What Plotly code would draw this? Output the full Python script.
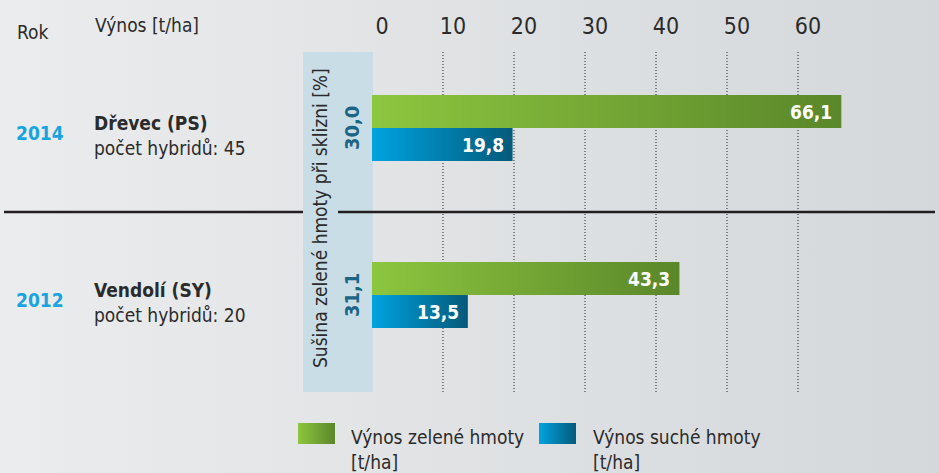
import base64
import plotly.graph_objects as go

# data
years = ['2014', '2012']
sites = ['Dřevec (PS)', 'Vendolí (SY)']
hybrids = [45, 20]
green_yield = [66.1, 43.3]   # výnos zelené hmoty [t/ha]
dry_yield = [19.8, 13.5]     # výnos suché hmoty [t/ha]
dry_matter = [30.0, 31.1]    # sušina při sklizni [%]
tick_vals = [0, 10, 20, 30, 40, 50, 60]

W, H = 939, 473
TOP = 52
FONT = 'Liberation Sans Narrow, DejaVu Sans Condensed, Roboto, sans-serif'
DARK = '#2b2b2b'


def px(x):
    return x / W


def py(y):
    return (H - y) / (H - TOP)


def fmt(v):
    return f'{v:.1f}'.replace('.', ',')


def svg_gradient(c0, c1):
    svg = ('<svg xmlns="http://www.w3.org/2000/svg" width="100" height="100" preserveAspectRatio="none">'
           '<defs><linearGradient id="g" x1="0" x2="1" y1="0" y2="0">'
           f'<stop offset="0" stop-color="{c0}"/><stop offset="1" stop-color="{c1}"/>'
           '</linearGradient></defs><rect width="100" height="100" fill="url(#g)"/></svg>')
    return 'data:image/svg+xml;base64,' + base64.b64encode(svg.encode()).decode()


GREEN = ['#8dc63f', '#5a872a']
BLUE = ['#00a3e0', '#045a7a']

pos = list(range(len(years)))
half = 33 / 167

fig = go.Figure()
for i, c in enumerate(pos):
    for vals, cols, y0, y1 in [(green_yield, GREEN, c - half, c), (dry_yield, BLUE, c, c + half)]:
        v = vals[i]
        fig.add_trace(go.Scatter(
            x=[0, v, v, 0, 0], y=[y0, y0, y1, y1, y0],
            mode='lines', fill='toself', line=dict(width=0, color='rgba(0,0,0,0)'),
            fillgradient=dict(type='horizontal', colorscale=[[0, cols[0]], [1, cols[1]]]),
            hoverinfo='text', text=fmt(v), showlegend=False))
        fig.add_annotation(x=v, y=(y0 + y1) / 2, text=f'<b>{fmt(v)}</b>', showarrow=False,
                           xanchor='right', yanchor='middle', xshift=-7,
                           font=dict(family=FONT, size=19, color='white'))

    # dry matter value in the band (rotated)
    fig.add_annotation(x=px(352), xref='paper', y=c, yref='y', text=f'<b>{fmt(dry_matter[i])}</b>',
                       textangle=-90, showarrow=False, xanchor='center', yanchor='middle',
                       font=dict(family=FONT, size=20, color='#1b6484'))
    # year and site labels
    fig.add_annotation(x=px(14), xref='paper', y=c, yref='y', yshift=-5, text=f'<b>{years[i]}</b>',
                       showarrow=False, xanchor='left', yanchor='middle',
                       font=dict(family=FONT, size=19, color='#1ba3de'))
    fig.add_annotation(x=px(92), xref='paper', y=c, yref='y', yshift=-7,
                       text=f'<b>{sites[i]}</b><br>počet hybridů: {hybrids[i]}',
                       showarrow=False, xanchor='left', yanchor='middle', align='left',
                       font=dict(family=FONT, size=19, color=DARK))

shapes = [
    dict(type='rect', xref='paper', yref='paper', x0=px(303), x1=px(373), y0=py(392), y1=py(TOP),
         fillcolor='#c9dde7', line=dict(width=0), layer='below'),
    dict(type='line', xref='paper', yref='paper', x0=px(4), x1=px(303), y0=py(212), y1=py(212),
         line=dict(color='#231f20', width=2.5)),
    dict(type='line', xref='paper', yref='paper', x0=px(338), x1=px(935), y0=py(212), y1=py(212),
         line=dict(color='#231f20', width=2.5)),
]
for t in tick_vals[1:]:
    shapes.append(dict(type='line', xref='x', yref='paper', x0=t, x1=t, y0=py(392), y1=py(TOP),
                       line=dict(color='#222', width=1, dash='1px,2px'), layer='below'))

annotations_top = [
    dict(x=px(15), y=py(32), text='Rok', yanchor='middle'),
    dict(x=px(93), y=py(25), text='Výnos [t/ha]', yanchor='middle'),
    dict(x=px(349), y=py(424), text='Výnos zelené hmoty<br>[t/ha]', yanchor='top'),
    dict(x=px(591), y=py(424), text='Výnos suché hmoty<br>[t/ha]', yanchor='top'),
]
for a in annotations_top:
    fig.add_annotation(xref='paper', yref='paper', showarrow=False, xanchor='left', align='left',
                       font=dict(family=FONT, size=19, color=DARK), **a)

fig.add_annotation(x=px(320), y=py(218), xref='paper', yref='paper', showarrow=False,
                   xanchor='center', yanchor='middle',
                   text='Sušina zelené hmoty při sklizni [%]', textangle=-90,
                   font=dict(family=FONT, size=19, color=DARK))

images = [
    dict(source=svg_gradient('#ebeced', '#d4d8db'), xref='paper', yref='paper',
         x=0, y=py(0), sizex=1, sizey=py(0), xanchor='left', yanchor='top',
         sizing='stretch', layer='below'),
    dict(source=svg_gradient(*GREEN), xref='paper', yref='paper',
         x=px(298), y=py(423), sizex=px(37), sizey=21 / (H - TOP), xanchor='left', yanchor='top',
         sizing='stretch', layer='above'),
    dict(source=svg_gradient(*BLUE), xref='paper', yref='paper',
         x=px(539), y=py(423), sizex=px(37), sizey=21 / (H - TOP), xanchor='left', yanchor='top',
         sizing='stretch', layer='above'),
]

scale = 7.1
zero_px = 372
fig.update_layout(
    width=W, height=H,
    margin=dict(l=0, r=0, t=TOP, b=0, pad=0),
    paper_bgcolor='#e0e2e4', plot_bgcolor='rgba(0,0,0,0)',
    shapes=shapes, images=images, showlegend=False,
    xaxis=dict(range=[-zero_px / scale, (W - zero_px) / scale], side='top',
               tickvals=tick_vals, ticktext=[str(t) for t in tick_vals],
               showgrid=False, zeroline=False, showline=False, ticks='',
               ticklabelshift=10, ticklabelstandoff=12, automargin=False,
               tickfont=dict(family=FONT, size=23, color=DARK), fixedrange=True),
    yaxis=dict(range=[1 + (H - 295) / 167, -(128 - TOP) / 167], showgrid=False,
               zeroline=False, showticklabels=False, automargin=False, fixedrange=True),
)

# the page gets the browser's default 8px body margin; drop it so the figure fills the window
fig.write_html('out.html', config={'displayModeBar': False},
               post_script="document.body.style.margin='0';document.body.style.overflow='hidden';")
